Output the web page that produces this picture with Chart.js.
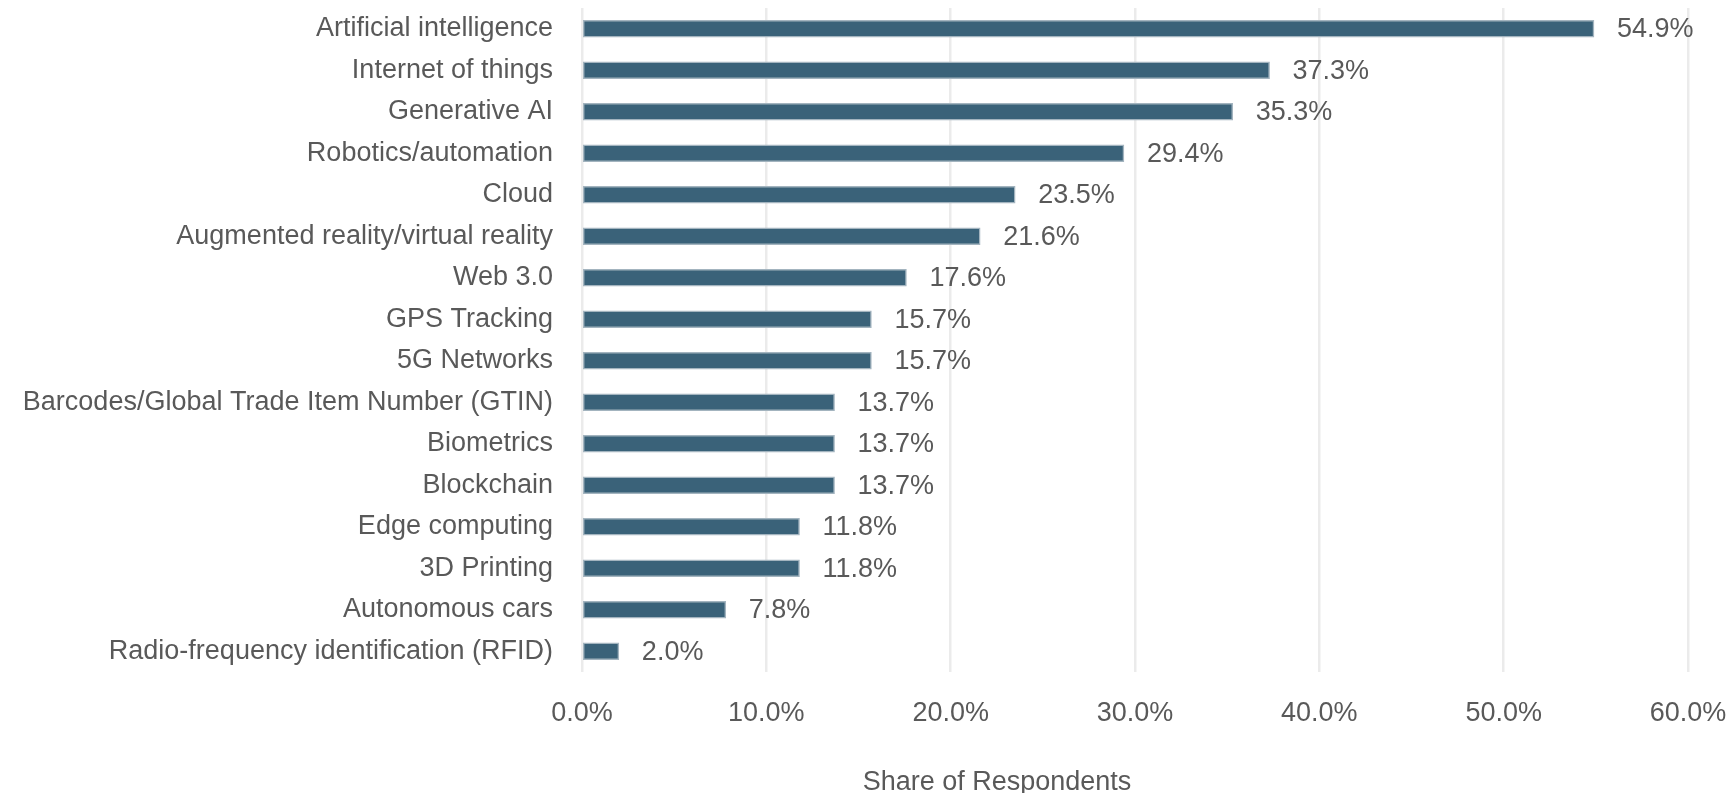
<!DOCTYPE html>
<html>
<head>
<meta charset="utf-8">
<script src="https://cdn.jsdelivr.net/npm/chart.js@4"></script>
<style>
  html, body { margin: 0; padding: 0; background: #fff; }
  #wrap { width: 1726px; height: 793px; position: relative; }
</style>
</head>
<body>
<div id="wrap"><canvas id="myChart"></canvas></div>
<script>
// categories (top to bottom)
const categories = [
  "Artificial intelligence",
  "Internet of things",
  "Generative AI",
  "Robotics/automation",
  "Cloud",
  "Augmented reality/virtual reality",
  "Web 3.0",
  "GPS Tracking",
  "5G Networks",
  "Barcodes/Global Trade Item Number (GTIN)",
  "Biometrics",
  "Blockchain",
  "Edge computing",
  "3D Printing",
  "Autonomous cars",
  "Radio-frequency identification (RFID)"
];

// share of respondents, in percent
const shares = [54.9, 37.3, 35.3, 29.4, 23.5, 21.6, 17.6, 15.7, 15.7, 13.7, 13.7, 13.7, 11.8, 11.8, 7.8, 2.0];

// x axis ticks
const xTicks = [0, 10, 20, 30, 40, 50, 60];
const axisTitle = "Share of Respondents";

const FONT = "'Liberation Sans', Arial, sans-serif";
const GREY = "#595959";

// value labels to the right of each bar
const valueLabels = {
  id: "valueLabels",
  afterDatasetsDraw(chart) {
    const ctx = chart.ctx;
    const meta = chart.getDatasetMeta(0);
    ctx.save();
    ctx.font = "27px " + FONT;
    ctx.fillStyle = GREY;
    ctx.textAlign = "left";
    ctx.textBaseline = "middle";
    meta.data.forEach((bar, i) => {
      ctx.fillText(shares[i].toFixed(1) + "%", bar.x + 23, bar.y + 1);
    });
    ctx.restore();
  }
};

// axis title (sits left of the plot centre in the original)
const axisTitlePlugin = {
  id: "axisTitlePlugin",
  afterDraw(chart) {
    const ctx = chart.ctx;
    ctx.save();
    ctx.font = "27px " + FONT;
    ctx.fillStyle = GREY;
    ctx.textAlign = "center";
    ctx.textBaseline = "alphabetic";
    ctx.fillText(axisTitle, 997, 790);
    ctx.restore();
  }
};

const ctx = document.getElementById("myChart").getContext("2d");

const chart = new Chart(ctx, {
  type: "bar",
  data: {
    labels: categories,
    datasets: [{
      label: axisTitle,
      data: shares,
      backgroundColor: "#3a6279",
      borderColor: "#a3b4bf",
      borderWidth: 1.5,
      borderSkipped: false,
      barThickness: 17
    }]
  },
  options: {
    indexAxis: "y",
    responsive: true,
    maintainAspectRatio: false,
    animation: false,
    layout: {
      padding: { top: 8, right: 38, left: 0, bottom: 0 }
    },
    plugins: {
      legend: { display: false },
      tooltip: { enabled: false }
    },
    scales: {
      x: {
        min: 0,
        max: 60,
        afterFit(scale) {
          scale.height = 121;
          scale.paddingLeft = 0;
          scale.paddingRight = 0;
        },
        afterBuildTicks(scale) { scale.ticks = xTicks.map(v => ({ value: v })); },
        border: { display: false },
        grid: { color: "#ebebeb", lineWidth: 2.5, drawTicks: false },
        ticks: {
          padding: 25,
          color: GREY,
          font: { family: FONT, size: 27 },
          maxRotation: 0,
          callback: v => v.toFixed(1) + "%"
        }
      },
      y: {
        afterFit(scale) {
          scale.width = 582;
          scale.paddingTop = 0;
          scale.paddingBottom = 0;
        },
        border: { display: false },
        grid: { display: false, drawTicks: false },
        ticks: {
          padding: 29,
          color: GREY,
          autoSkip: false,
          font: { family: FONT, size: 27 }
        }
      }
    }
  },
  plugins: [valueLabels, axisTitlePlugin]
});
</script>
</body>
</html>
